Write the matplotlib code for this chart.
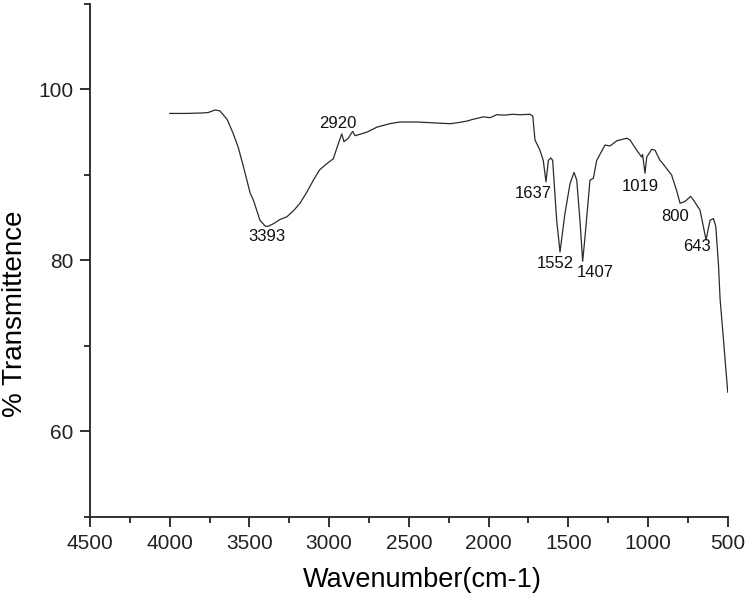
import matplotlib
matplotlib.use("Agg")
import matplotlib.pyplot as plt
from matplotlib.ticker import MultipleLocator

plt.rcParams['font.family'] = ['Liberation Sans', 'DejaVu Sans']

# spectrum (wavenumber, % transmittance)
wavenumber = [4000, 3900, 3800, 3760, 3716, 3685, 3640, 3603, 3570, 3538, 3496,
              3476, 3434, 3400, 3382, 3350, 3308, 3266, 3220, 3183, 3140, 3099,
              3060, 3016, 2974, 2942, 2921, 2907, 2880, 2853, 2838, 2800, 2765,
              2700, 2620, 2556, 2450, 2347, 2242, 2200, 2137, 2100, 2033, 1990,
              1949, 1900, 1850, 1800, 1740, 1723, 1709, 1678, 1657, 1640, 1625,
              1610, 1598, 1573, 1552, 1521, 1489, 1464, 1447, 1427, 1410, 1395,
              1364, 1343, 1322, 1270, 1238, 1196, 1134, 1113, 1071, 1040, 1034,
              1019, 1008, 977, 956, 925, 914, 852, 821, 799, 768, 733, 716, 674,
              653, 636, 611, 590, 575, 558, 548, 530, 500]
transmittance = [97.2, 97.2, 97.25, 97.3, 97.6, 97.5, 96.5, 94.9, 93.2, 91.0, 87.9,
                 87.1, 84.7, 84.0, 84.0, 84.3, 84.8, 85.1, 85.9, 86.7, 88.0, 89.4,
                 90.6, 91.3, 91.9, 93.7, 94.8, 93.9, 94.3, 95.1, 94.6, 94.8, 95.0,
                 95.6, 96.0, 96.2, 96.2, 96.1, 96.0, 96.1, 96.3, 96.5, 96.8, 96.7,
                 97.05, 97.0, 97.1, 97.05, 97.1, 96.9, 94.1, 92.9, 91.7, 89.2, 91.7,
                 92.0, 91.7, 84.7, 81.0, 85.5, 89.0, 90.3, 89.4, 84.7, 79.9, 82.8,
                 89.4, 89.6, 91.7, 93.5, 93.4, 94.0, 94.3, 94.1, 92.9, 92.1, 92.4,
                 90.2, 92.1, 93.0, 92.9, 91.7, 91.5, 90.0, 88.2, 86.7, 86.9, 87.5,
                 87.1, 85.9, 84.0, 82.4, 84.7, 84.9, 84.0, 79.5, 75.5, 71.5, 64.6]

# peak labels and where their text sits
peak_labels = ['3393', '2920', '1637', '1552', '1407', '1019', '800', '643']
label_x = [3392, 2943, 1723, 1583, 1332, 1046, 831, 695]
label_y = [82.8, 96.0, 87.85, 79.7, 78.6, 88.7, 85.2, 81.6]

fig = plt.figure(figsize=(7.49, 6.06), dpi=100)
ax = fig.add_axes([0.1202, 0.1469, 0.8514, 0.8465])

ax.plot(wavenumber, transmittance, color='#2b2b2b', lw=0.9)

for txt, lx, ly in zip(peak_labels, label_x, label_y):
    ax.text(lx, ly, txt, fontsize=12, ha='center', va='center', color='#111111')

ax.set_xlim(4500, 500)
ax.set_ylim(50, 110)
ax.xaxis.set_major_locator(MultipleLocator(500))
ax.xaxis.set_minor_locator(MultipleLocator(250))
ax.set_yticks([60, 80, 100])
ax.yaxis.set_minor_locator(MultipleLocator(10))

for s in ['top', 'right']:
    ax.spines[s].set_visible(False)
for s in ['left', 'bottom']:
    ax.spines[s].set_linewidth(1.3)
    ax.spines[s].set_color('#222222')

ax.tick_params(which='major', direction='out', length=7, width=1.3, labelsize=15,
               colors='#222222', pad=5)
ax.tick_params(which='minor', direction='out', length=4, width=1.3, colors='#222222')

ax.set_xlabel('Wavenumber(cm-1)', fontsize=19.5)
ax.set_ylabel('% Transmittence', fontsize=20)
ax.xaxis.set_label_coords(0.521, -0.097)
ax.yaxis.set_label_coords(-0.097, 0.396)

fig.savefig('out.png', dpi=100)
